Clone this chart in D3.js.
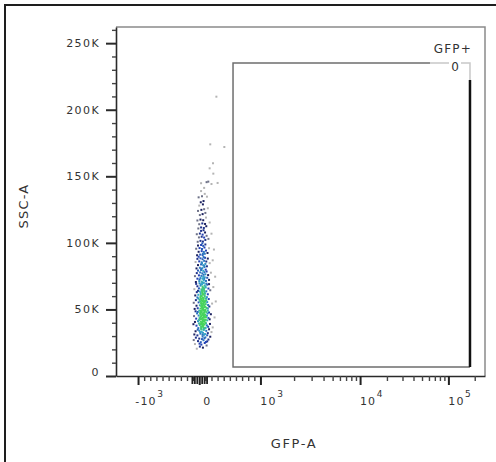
<!DOCTYPE html>
<html>
<head>
<meta charset="utf-8">
<script src="https://cdn.jsdelivr.net/npm/d3@7"></script>
<style>
  html, body { margin: 0; padding: 0; background: #fff; }
  svg { display: block; }
  text { font-family: "DejaVu Sans", sans-serif; fill: #333; }
</style>
</head>
<body>
<div id="chart"></div>
<script>
(function () {
  // events: [GFP-A, SSC-A (K)]
  const events = [
    [-40,20.5],[10,22.1],[60,21.3],[-70,24.0],[35,23.6],[90,24.8],[120,22.9],[-20,26.2],[70,26.9],[150,27.4],[0,28.1],[45,27.7],[100,29.0],[-55,28.8],[180,29.5],[25,25.4],[85,28.4],[130,26.0],[-90,27.0],[55,29.6],[5,24.3],[110,25.6],
    [-80,31.2],[-30,30.5],[20,31.8],[55,30.9],[95,31.5],[140,32.2],[200,33.0],[-60,33.6],[0,34.1],[40,33.2],[75,34.6],[115,33.9],[160,35.1],[-15,36.0],[30,35.4],[65,36.7],[105,36.2],[145,37.0],[-45,37.8],[10,38.2],[50,37.5],[85,38.6],[125,38.0],[175,39.1],[-95,38.9],[-5,39.5],[35,39.8],[70,39.2],[100,40.0],[220,36.5],[60,32.4],[90,35.8],[15,32.9],[130,30.6],[-25,34.8],[45,38.9],[80,31.0],[110,39.6],
    [-70,40.6],[-20,41.2],[25,40.8],[60,41.5],[90,42.0],[130,41.8],[170,42.6],[-50,43.1],[5,43.4],[45,42.9],[75,43.8],[110,44.2],[150,43.6],[-85,45.0],[-10,45.4],[30,44.9],[65,45.8],[95,46.1],[125,45.3],[190,46.4],[-35,47.0],[15,47.3],[50,46.8],[80,47.5],[115,48.0],[160,47.7],[-60,48.6],[0,49.0],[40,48.4],[70,49.3],[100,49.7],[140,49.1],[250,44.0],[55,41.0],[85,44.6],[20,46.2],[105,42.4],[-25,48.1],[35,43.2],[135,47.0],[60,49.8],[-5,42.0],[90,48.9],
    [-75,50.4],[-25,50.9],[20,50.6],[55,51.3],[85,51.8],[120,51.1],[165,52.2],[-45,52.8],[10,53.1],[45,52.5],[75,53.6],[105,54.0],[145,53.3],[210,54.4],[-90,55.0],[-10,55.3],[30,54.8],[65,55.9],[95,56.3],[130,55.5],[-55,57.0],[5,57.4],[40,56.9],[70,57.6],[110,58.1],[155,57.8],[-30,59.0],[20,59.3],[60,58.7],[90,59.6],[125,59.2],[270,56.0],[50,50.2],[80,55.1],[15,56.2],[100,52.0],[-15,58.2],[140,50.7],[35,58.0],[115,56.8],
    [-65,60.5],[-15,61.0],[25,60.8],[60,61.6],[95,62.0],[140,61.4],[-40,63.0],[10,63.5],[50,62.8],[80,64.0],[115,63.6],[180,64.4],[-80,65.2],[-5,65.8],[35,65.1],[70,66.0],[105,66.5],[150,65.7],[-30,67.4],[20,67.9],[55,67.2],[90,68.0],[130,68.6],[230,66.8],[-50,69.2],[5,69.6],[45,69.0],[75,69.9],[115,69.4],[40,60.2],[85,63.0],[100,67.0],[-20,64.0],[160,69.0],[60,64.8],
    [-55,70.6],[0,71.2],[40,70.9],[75,71.8],[110,71.4],[160,72.2],[-30,73.1],[20,73.6],[55,73.0],[90,74.1],[130,73.8],[-70,75.0],[-5,75.6],[35,75.2],[70,76.0],[100,76.4],[145,75.8],[260,74.6],[-40,77.3],[15,77.8],[50,77.1],[85,78.0],[120,78.5],[190,77.6],[-20,79.2],[30,79.6],[65,79.0],[105,79.9],[5,72.5],[80,72.9],
    [-45,80.8],[10,81.3],[50,81.0],[85,81.9],[125,82.4],[-20,83.3],[30,83.8],[65,83.2],[100,84.2],[170,84.8],[-60,85.6],[0,86.1],[40,85.4],[80,86.5],[115,86.0],[220,86.9],[-30,88.0],[20,88.4],[55,87.7],[95,88.8],[140,88.2],[-10,89.6],[70,89.4],[35,80.4],
    [-35,90.7],[15,91.2],[55,90.9],[90,91.8],[135,92.4],[-10,93.3],[40,93.8],[75,93.2],[110,94.2],[-50,95.6],[5,96.1],[45,95.4],[85,96.5],[160,96.0],[-20,98.0],[30,98.4],[65,97.7],[100,98.8],[240,95.0],[50,99.6],
    [-25,100.8],[20,101.5],[60,101.0],[100,102.2],[150,103.0],[-5,104.1],[40,104.6],[80,104.0],[120,105.3],[-40,106.5],[10,107.0],[55,106.2],[95,107.8],[200,106.9],[30,109.0],[70,109.5],
    [-15,110.8],[30,111.6],[75,111.2],[115,112.5],[0,114.0],[50,114.6],[95,114.2],[170,115.3],[-30,116.8],[20,117.5],[65,117.0],[110,119.0],
    [10,120.9],[55,121.6],[100,122.5],[-20,124.0],[35,124.8],[80,125.3],[140,126.0],[0,128.0],[60,128.9],
    [25,130.5],[70,131.4],[126,134.7],[-10,134.2],[45,135.0],[90,136.8],[30,138.9],
    [30,144.8],[120,145.6],[148,146.0],[200,144.2],[300,145.0],[80,141.3],
    [230,152.0],[225,159.8],[170,156.0],
    [180,174.0],[410,172.0],[280,209.8],
    [30,36.8],[62,37.9],[48,40.3],[78,40.9],[22,42.6],[58,43.9],[88,45.1],[42,45.5],[68,47.1],[28,48.8],[52,50.9],[82,52.7],[38,53.9],[62,54.4],[92,55.7],[48,56.1],[72,58.4],[28,57.9],[58,46.3],[78,44.4],[45,51.9],[66,51.0],[35,47.9],[98,49.4],[18,44.1],[55,38.6],[75,36.0],[40,35.0],[86,41.4],[25,39.0],[68,42.4],[50,53.1],[84,49.0],[60,56.6],[32,52.3],[70,61.2],[45,63.9],[88,60.6],[25,62.3],[58,66.2],[36,59.9],[78,65.4],[50,70.2],[65,74.4],[30,68.8],[82,82.8],[45,84.6],[60,91.8]
  ];

  // axes
  const xMajorTicks = [-1000, 0, 1000, 10000, 100000];
  const xTickBase = ["-10", "0", "10", "10", "10"];
  const xTickExp = ["3", "", "3", "4", "5"];
  const yMajorTicks = [0, 50000, 100000, 150000, 200000, 250000];
  const yTickLabels = ["0", "50K", "100K", "150K", "200K", "250K"];
  const xLabel = "GFP-A";
  const yLabel = "SSC-A";
  const xRange = [-1552, 262144];
  const yRange = [0, 262144];

  // gate
  const gateName = "GFP+";
  const gateCount = 0;
  const gateX = [552, 176500];
  const gateY = [6760, 235100];

  // config
  const width = 496;
  const height = 462;
  const margin = { top: 27, right: 11, bottom: 86, left: 116 };
  const plotRight = width - margin.right;
  const plotBottom = height - margin.bottom;

  // biexponential-ish display transform: linear near zero, log above
  const LIN = 1000, OFF = 300, K = 1.426;
  function biex(v) {
    const a = Math.abs(v);
    const r = a <= LIN ? a / LIN : 1 + K * Math.log10((a - OFF) / (LIN - OFF));
    return v < 0 ? -r : r;
  }

  const xScale = d3.scaleLinear()
    .domain(xRange.map(biex))
    .range([margin.left, plotRight]);
  const xPos = (v) => xScale(biex(v));

  const yScale = d3.scaleLinear()
    .domain(yRange)
    .range([plotBottom, margin.top]);

  const svg = d3.select("#chart")
    .append("svg")
    .attr("width", width)
    .attr("height", height);

  // outer border (cropped on right/bottom)
  svg.append("path")
    .attr("d", `M5,${height} L5,5 L${width},5`)
    .attr("fill", "none")
    .attr("stroke", "#1e1e1e")
    .attr("stroke-width", 2);

  // plot frame top/right
  svg.append("path")
    .attr("d", `M${margin.left},${margin.top} L${plotRight},${margin.top} L${plotRight},${plotBottom}`)
    .attr("fill", "none")
    .attr("stroke", "#8a8a8a")
    .attr("stroke-width", 1.5);

  // tick sets
  const yMinor = d3.range(10000, yRange[1], 10000).filter((d) => d % 50000 !== 0);
  const xMinor = [].concat(
    d3.range(-900, 0, 100),
    d3.range(100, 1000, 100),
    d3.range(2000, 10000, 1000),
    d3.range(20000, 100000, 10000),
    [200000]
  );
  const xZero = [-120, -80, -40, 40, 80, 120];

  // y axis: majors + minors in one axis
  const yAll = yMajorTicks.concat(yMinor);
  const yAxis = svg.append("g")
    .attr("transform", `translate(${margin.left},0)`)
    .call(d3.axisLeft(yScale).tickValues(yAll).tickSize(10).tickSizeOuter(0).tickPadding(6)
      .tickFormat((d) => {
        const i = yMajorTicks.indexOf(d);
        return i < 0 ? "" : yTickLabels[i];
      }));
  yAxis.select(".domain").attr("stroke", "#2a2a2a").attr("stroke-width", 1.6);
  yAxis.selectAll(".tick line")
    .attr("x2", (d) => yMajorTicks.includes(d) ? -10 : -4)
    .attr("stroke", (d) => yMajorTicks.includes(d) ? "#2a2a2a" : "#444")
    .attr("stroke-width", (d) => yMajorTicks.includes(d) ? 2 : 1.4);
  yAxis.selectAll(".tick text")
    .attr("font-family", "DejaVu Sans")
    .attr("font-size", 11)
    .attr("letter-spacing", 1.4)
    .attr("fill", "#333")
    .attr("dy", (d) => d === 0 ? "-0.05em" : "0.32em");

  // x axis: majors + minors + the packed ticks around zero
  const xAll = xMajorTicks.concat(xMinor, xZero);
  const kind = (i) => i < xMajorTicks.length ? "major" : (i < xMajorTicks.length + xMinor.length ? "minor" : "zero");
  const xAxis = svg.append("g")
    .attr("transform", `translate(0,${plotBottom})`)
    .call(d3.axisBottom(xScale).tickValues(xAll.map(biex)).tickSizeOuter(0).tickFormat(""));
  xAxis.select(".domain").attr("stroke", "#2a2a2a").attr("stroke-width", 1.6);
  xAxis.selectAll(".tick line")
    .attr("y2", (d, i) => ({ major: 9, minor: 5, zero: 8 })[kind(i)])
    .attr("stroke", (d, i) => kind(i) === "minor" ? "#444" : "#222")
    .attr("stroke-width", (d, i) => ({ major: 2, minor: 1.4, zero: 1.8 })[kind(i)]);

  // x tick labels with superscripts
  xMajorTicks.forEach((v, i) => {
    const cx = xPos(v) + 8;
    const base = svg.append("text")
      .attr("x", cx)
      .attr("y", 405)
      .attr("text-anchor", "middle")
      .attr("font-size", 11)
      .attr("letter-spacing", 1.2)
      .text(xTickBase[i]);
    if (xTickExp[i]) {
      const bb = base.node().getBBox();
      svg.append("text")
        .attr("x", bb.x + bb.width + 0.5)
        .attr("y", 397)
        .attr("font-size", 9)
        .text(xTickExp[i]);
    }
  });

  // axis titles
  svg.append("text")
    .attr("x", 294)
    .attr("y", 448)
    .attr("text-anchor", "middle")
    .attr("font-size", 13)
    .attr("letter-spacing", 1.6)
    .text(xLabel);

  svg.append("text")
    .attr("transform", `translate(28,206) rotate(-90)`)
    .attr("text-anchor", "middle")
    .attr("font-size", 13)
    .attr("letter-spacing", 1.2)
    .text(yLabel);

  // events, coloured by local density
  const pts = events.map((e) => ({ px: xPos(e[0]), py: yScale(e[1] * 1000) }));
  pts.forEach((p) => {
    let n = 0;
    pts.forEach((q) => {
      const dx = p.px - q.px, dy = p.py - q.py;
      if (dx * dx + dy * dy < 12.5) n++;
    });
    p.n = n - 1;
  });
  const color = d3.scaleLinear()
    .domain([0, 1, 2, 4, 8, 12])
    .range(["#b4b4b4", "#6d7187", "#1c2260", "#2443b5", "#34a8c8", "#46d35c"])
    .clamp(true);

  svg.append("g")
    .selectAll("rect")
    .data(pts.sort((a, b) => a.n - b.n))
    .enter()
    .append("rect")
    .attr("x", (d) => d.px - 1)
    .attr("y", (d) => d.py - 1)
    .attr("width", 2)
    .attr("height", 2)
    .attr("fill", (d) => color(d.n));

  // gate
  const gx0 = xPos(gateX[0]), gx1 = xPos(gateX[1]);
  const gy0 = yScale(gateY[1]), gy1 = yScale(gateY[0]);
  const g = svg.append("g").attr("fill", "none");

  g.append("path")
    .attr("d", `M${gx1},${gy1} L${gx0},${gy1} L${gx0},${gy0} L${gx1 - 40},${gy0}`)
    .attr("stroke", "#6e6e6e")
    .attr("stroke-width", 1.5);
  g.append("path")
    .attr("d", `M${gx1 - 40},${gy0} L${gx1},${gy0} L${gx1},${gy0 + 17}`)
    .attr("stroke", "#c8c8c8")
    .attr("stroke-width", 1.5);
  g.append("line")
    .attr("x1", gx1).attr("x2", gx1)
    .attr("y1", gy0 + 17).attr("y2", gy1)
    .attr("stroke", "#111")
    .attr("stroke-width", 2.5);

  svg.append("rect")
    .attr("x", gx1 - 21)
    .attr("y", gy0 - 2)
    .attr("width", 12)
    .attr("height", 12)
    .attr("fill", "#fff");
  svg.append("text")
    .attr("x", gx1 - 15)
    .attr("y", gy0 + 8)
    .attr("text-anchor", "middle")
    .attr("font-size", 12)
    .text(gateCount);
  svg.append("text")
    .attr("x", gx1 + 2)
    .attr("y", gy0 - 10)
    .attr("text-anchor", "end")
    .attr("font-size", 12)
    .attr("letter-spacing", 1.2)
    .text(gateName);
})();
</script>
</body>
</html>
